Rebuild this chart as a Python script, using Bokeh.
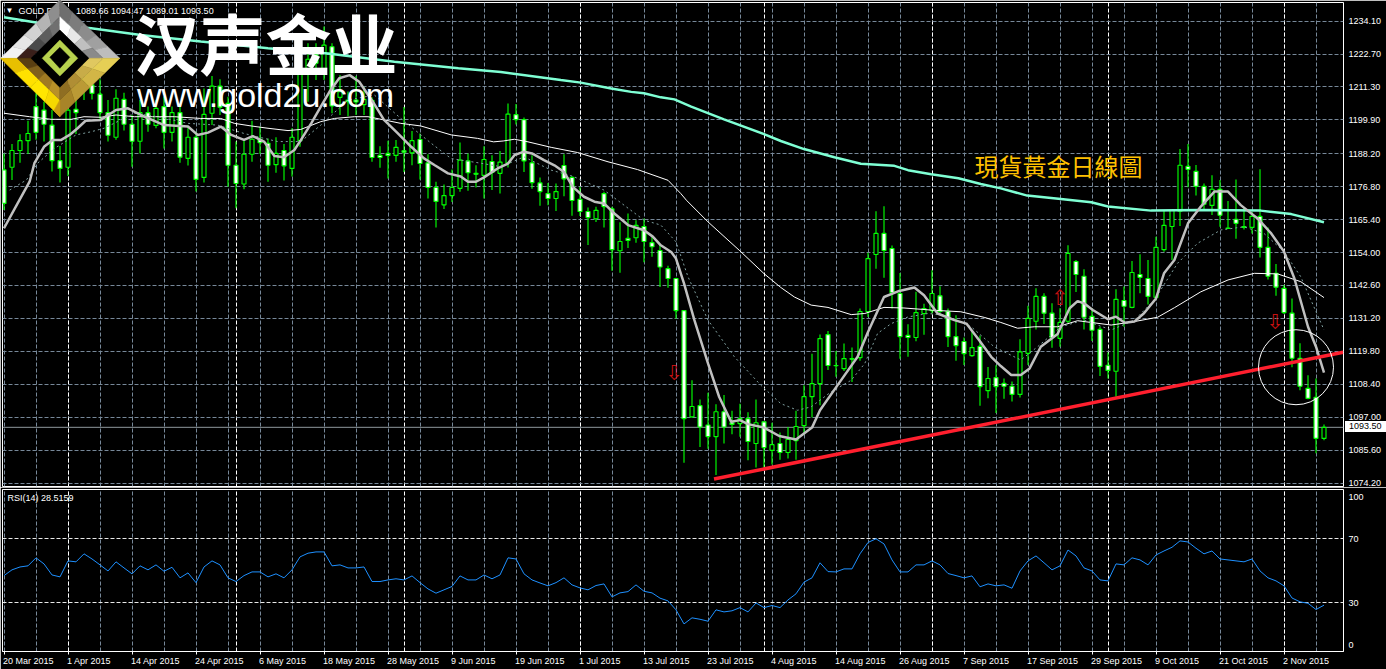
import numpy as np
from bokeh.plotting import figure
from bokeh.layouts import column
from bokeh.models import (ColumnDataSource, Div, FixedTicker, Grid, Label, LinearAxis,
                          NumeralTickFormatter, CustomJSTickFormatter, Range1d)
from bokeh.core.properties import value
from bokeh.embed import file_html
from bokeh.resources import INLINE

high = [1188.3,1191.6,1194.9,1199.6,1209.1,1206.2,1203.3,1190.9,1206.8,1213.7,1222.4,1218.3,1214,1206.8,1210.5,1209.3,1201.6,1206.8,1204.5,1206.8,1207.9,1204.5,1205.6,1197.6,1195.8,1210.8,1215.1,1214,1207.9,1192.4,1193,1199.6,1197.6,1193.5,1193.9,1191.6,1197,1218.9,1226.4,1226.4,1232.2,1226.4,1215.4,1209.7,1215.1,1211.4,
        1207.7,1190.8,1192.7,1192.9,1204.4,1196.1,1195.2,1188,1178.5,1177.5,1182.7,1192.1,1188.3,1184.2,1190.8,1187.7,1189.1,1205.6,1205.4,1200.7,1187.7,1180,1178.1,1177.9,1188,1180.4,1176.7,1169.6,1169.8,1175,1169.8,1164.5,1167.5,1165.2,1165.8,1159.7,
        1156.9,1149.4,1145.3,1133.9,1109.8,1103.1,1105.5,1101.5,1104.7,1099.2,1101.7,1098.7,1103.1,1095.4,1095.1,1091.7,1093.6,1099.2,1108.1,1119,1125.6,1126.8,1119.9,1122.5,1121.1,1134.6,1153.9,1168.3,1170,1156.4,1146.9,1129.2,1140.4,1136.3,1147.9,1142.3,1134.6,1132.3,1124.6,1127.1,1125.3,1114.4,1115,
        1110.4,1109.4,1124,1135.6,1141.6,1139.9,1136.4,1134.7,1156.5,1151.4,1148.2,1134.7,1128.3,1119.4,1141.3,1142.2,1151.1,1153.4,1151.4,1159.5,1168.7,1168.7,1189.8,1191.6,1184.3,1177.9,1180.7,1179.1,1171.8,1179.3,1169.6,1168.1,1182.8,1162.7,1150,1142.8,1138.1,1122.6,1111.5,1110.4,1094.47]
body_top = [1182.6,1189.3,1192.7,1195.2,1204.5,1203.3,1198.1,1185.8,1203.3,1203.6,1217.7,1212,1208.8,1202.4,1207.4,1207,1198.4,1202.4,1202.4,1203.9,1204.5,1202.4,1202.4,1193.9,1193.9,1201.8,1211.6,1211.6,1205.6,1184.2,1188,1193.2,1193.2,1191.8,1188.3,1189.3,1193.9,1215.8,1220.9,1222.4,1225.8,1225.2,1209.7,1206.8,1206.8,1207,
            1206.7,1187.6,1188.3,1190.4,1189.2,1192.7,1193.1,1185,1176.5,1173.7,1176.5,1186,1185.7,1181.4,1186.2,1185.5,1185.3,1201.9,1201.7,1200,1185,1178.1,1174.4,1175.1,1184.1,1180,1172.4,1168.2,1168.6,1174.4,1169.1,1157.8,1158.9,1163.4,1163,1157.4,
            1154.7,1148.4,1145,1133.9,1100.7,1101,1094.3,1098.9,1098.9,1095.1,1096.5,1096.5,1095.1,1095.4,1087.5,1087.9,1089.3,1093.8,1104.1,1108.6,1124.2,1125.6,1114.9,1117.3,1117.3,1133.6,1151.9,1160.6,1160.6,1155.4,1139.8,1125.3,1133.2,1134.6,1139.8,1139,1133.6,1124.9,1123.2,1121.1,1121.5,1110.4,1110.7,
            1108.7,1107.7,1119.6,1131.2,1138.8,1138.8,1133,1129.8,1153.7,1150.9,1145.8,1131.9,1127.4,1115,1137.8,1137.4,1147.1,1146.4,1145,1155.8,1163.4,1168.6,1184.2,1183.8,1182.1,1176.9,1175.9,1175.9,1162.5,1165.5,1163,1166.5,1166.5,1155.8,1146.8,1141.6,1133,1117.4,1107,1103.9,1093.5]
body_bot = [1171,1183.5,1189.3,1192.7,1195.6,1198.4,1185.8,1183.1,1183.5,1202.4,1212,1209.1,1202.4,1194.6,1193.9,1198.4,1192.5,1192.5,1198.4,1198,1195.6,1195.6,1187,1186.6,1179.3,1180,1202.2,1204.3,1184.2,1177.9,1177.7,1188,1192,1184.2,1184.4,1184,1183.1,1192.7,1215.8,1219.5,1216.6,1204.7,1207.7,1206.2,1206.1,1205.2,
            1186.9,1186.9,1187.6,1187.6,1188.7,1188.5,1184.8,1176.5,1171.7,1170.5,1173.7,1176.2,1181.6,1181.1,1180.7,1181.7,1181.4,1185,1200,1185.7,1178.2,1175.1,1172.7,1172.7,1179.5,1172,1168.2,1166.1,1165.7,1169.9,1155,1154.6,1158.2,1159.1,1157.8,1156,
            1149,1145,1133.9,1096.5,1097.1,1093.6,1090.3,1090.3,1093.6,1094.5,1094.8,1088.6,1087.9,1086.5,1085.5,1084.8,1084.8,1088.9,1094.1,1104.1,1108.6,1114.9,1114.8,1113.8,1117.1,1117.6,1133.6,1153.3,1154.7,1140.1,1124.9,1124.6,1124.6,1132.9,1133.9,1133.6,1124.9,1121.8,1119,1118.3,1107.6,1106.2,1107.6,
            1107.7,1104.9,1104.9,1119.1,1130.2,1133,1124.6,1124.3,1130.2,1146.4,1131.6,1127.1,1114.6,1113.2,1112.9,1135.4,1135,1145.4,1138.8,1138.5,1155,1163,1168.3,1182.8,1176.9,1170.7,1170.3,1166.9,1162.3,1164.1,1162.7,1162.7,1155.8,1145.8,1142,1133.2,1117.4,1107.7,1103.5,1089.7,1089.66]
low = [1168.7,1179.1,1185.1,1188.1,1193,1192.4,1182,1178.2,1180.5,1195,1206.8,1207,1199.9,1192.4,1193,1196.2,1183.7,1188.3,1195.8,1197,1190,1192.4,1185.1,1184.1,1175.1,1178.2,1198.1,1201.6,1176.8,1169.3,1175.9,1185.4,1188.1,1178.5,1181.6,1178.9,1180.3,1190.6,1206.2,1213.7,1213.7,1202.2,1201.6,1201.2,1201.6,1201.6,
       1185.4,1183.3,1179.6,1185.4,1181.9,1184.2,1179.3,1172.7,1162.7,1169.1,1171.5,1175,1175.4,1176.5,1172.7,1175.6,1174.4,1183.4,1198.3,1181.9,1176.1,1170.2,1170.4,1168.4,1173.5,1166.7,1166.6,1156.6,1164.6,1162.7,1147.7,1147,1155.6,1157.4,1150.6,1152.5,
       1142.1,1141.8,1131.1,1081.2,1096.9,1086.7,1086.1,1077,1087.9,1091.1,1090.2,1082.1,1079.6,1079.8,1080.6,1082.3,1082.7,1082.3,1090.9,1096.9,1101.1,1113.3,1111,1113,1109.2,1116.5,1131.7,1148.4,1145.3,1134.6,1117.2,1117.9,1123.3,1125.5,1132.9,1132.9,1121.3,1116.5,1115.1,1117.9,1101,1103.6,1098.5,
       1103.4,1102.4,1103.8,1115.1,1127.4,1129.3,1121,1121.4,1129.5,1140.3,1127.4,1123.4,1111.3,1110.4,1104.1,1128.3,1134.7,1139.9,1136,1137.6,1154.3,1151.4,1163.2,1176.6,1173.7,1168.4,1167,1162.9,1162.1,1158.8,1162,1160.6,1152.3,1144.7,1139,1132.7,1114.3,1106.3,1103.2,1084.5,1089.01]
rising_bars = [1,2,3,8,10,14,17,19,21,23,25,26,30,31,34,36,37,38,40,42,45,49,51,55,56,57,60,62,63,69,74,77,79,86,89,92,94,96,98,99,100,101,102,105,107,108,109,114,115,116,121,123,127,128,129,132,133,139,141,144,145,146,147,151,156,165]

fast_ma_bar = [0,1.7,3.2,3.8,5,6.1,7.1,8.2,9.2,10.2,12.1,14,15.5,17.1,20,23,24.2,25.5,27.1,28.4,30,31.1,32.5,33.8,35,36.3,37.1,38.4,39.6,40.7,41.9,43.2,44.4,46.1,47.5,49.2,50.9,52.5,53.8,55.5,57.1,58,59,60,61.7,63,63.8,65,66,67.5,68.8,70,71.1,72.5,73.8,75,76.3,78,80,81.1,82.1,83.4,84,85,86.3,88,89.4,90.9,92,93,95,96.9,99,101,102,104.2,106.7,108,110,111.9,113.8,115,116.7,118.8,120.3,121.9,123.4,124.6,125.9,127.1,128.2,129.6,131.7,133.2,134.2,135,136.1,138,139,140.1,141.3,142.5,144,145,146.3,148,149.6,151.3,153,154.6,156.7,158.4,160,161.3,163,164,165]
fast_ma_val = [1162.4,1171,1178.5,1184.9,1190.6,1192.9,1192.9,1194.7,1197,1199.6,1199.9,1203.3,1203.9,1201.6,1198.1,1197.6,1194.7,1195.5,1197.6,1194.7,1193,1194.3,1192.4,1187.4,1187,1189.5,1192.9,1198.7,1204.5,1209.7,1214.3,1215.4,1213.1,1206.2,1199.9,1195.3,1190.6,1186.6,1184.3,1181.4,1180.3,1178.5,1178.5,1180,1183.1,1184.8,1187.7,1188.9,1188.3,1186,1184.2,1181.9,1176.7,1173.3,1171.6,1171,1167.5,1163.5,1161.7,1159.5,1156.5,1154.2,1151.9,1143.3,1130.6,1115.6,1104,1095.4,1096,1094.6,1093.4,1090.5,1089.3,1093.4,1099.4,1108.1,1117.9,1126.5,1138.6,1140.7,1141.9,1139.2,1132.9,1130.6,1129.4,1123.6,1117.9,1114.7,1111.6,1111.6,1113.9,1121.4,1125.8,1134.7,1137.2,1136.4,1134.1,1130.9,1131.8,1129.7,1130.1,1133,1138.1,1146.8,1151.4,1164.1,1169.9,1175.1,1175.1,1170.4,1165.8,1160.6,1154.3,1145,1128.3,1121.4,1112.4]

signal_ma_bar = [0.7,2.8,4.2,6.3,9,10.9,12.5,16.3,19.2,23,26.7,30,34.2,37.1,39.6,43,46.3,49.6,53.4,55.9,59.4,62.1,65,68.4,71.1,75,77.5,80,82.1,84,85.5,88,91.3,94.6,97.1,99.2,100.9,103.4,105.9,107.6,109.2,110.9,113,115.5,117.5,120.9,123.8,127.1,129.2,132.1,135,138.4,141.3,143.8,146.7,149.2,152.1,155,157.5,160,162.1,165]
signal_ma_val = [1175.6,1179.1,1184.9,1190,1194.7,1195.8,1197,1202.2,1201,1198.7,1198.1,1195.2,1192.4,1192.4,1198.1,1206.8,1208.5,1200.4,1191.8,1186.5,1185,1183.7,1187.1,1182.5,1180.4,1175.6,1170.4,1165.2,1163.5,1157.7,1145.6,1130.6,1117.9,1108.1,1101.7,1099.4,1100.6,1105.8,1109.8,1115.6,1126,1129.4,1131.7,1132.9,1132.3,1128.3,1121.3,1116.8,1121.4,1128.3,1130.6,1127.2,1130.6,1137.6,1150.3,1157.2,1161.8,1162.9,1160.6,1154.3,1145.6,1127.2]

mid_ma_bar = [0,3.2,5.9,8.4,10,12.1,14,16.3,18.6,21.3,24.6,27.1,28.8,30.9,33,35.5,37.1,39.6,41.3,43.8,45.5,47.5,49.6,52.1,55.9,59.2,61.2,62.4,63.8,65.5,68.4,71.7,75.5,79.2,83,84.6,85.3,88,91.9,95,97.1,98.8,100.9,103,105.9,107.6,110,112.5,116.3,119.6,122.6,124.6,126.7,128.8,131.7,134.2,138.4,141.3,144.2,146.3,149.6,153,156.3,159.2,162.1,165]
mid_ma_val = [1202.2,1201,1200.1,1200.1,1201,1200.8,1201.6,1201,1201,1201,1200.4,1200.4,1198.7,1197.8,1197,1196.2,1196.6,1199.3,1200.4,1201,1201,1199.9,1198.7,1197.8,1194.7,1193.5,1192.3,1192.6,1193.2,1192.3,1190.4,1188.6,1185.4,1182.7,1179,1174.4,1172.1,1164.6,1154.8,1146.7,1141.9,1138.6,1135.8,1135,1132.5,1132.9,1135,1134.8,1134,1133.5,1131.5,1129.8,1127.8,1128.3,1128.3,1130.4,1128.9,1130.1,1131.6,1134.9,1140.4,1144.5,1146.8,1146.6,1143.9,1138.4]

slow_ma_bar = [0,4,10.9,17.1,24.6,33,40.5,48.8,56.8,62.1,69.6,72.1,75.9,78.4,80,82.1,83.8,85.9,90,95,97.1,100,103.8,107.1,111.3,113,115.9,119.3,122.1,124.6,127.9,132.1,135.9,138,143.4,149.6,157.1,160.9,165]
slow_ma_val = [1235.4,1233.6,1231.6,1229.3,1227,1224.7,1222.9,1220,1217.8,1216.5,1213.7,1212.8,1210.8,1209.6,1209.1,1207.7,1207,1204.5,1200.1,1195,1192.6,1189.8,1187,1184.7,1184,1182.5,1181.1,1179.7,1177.7,1176.2,1173.7,1172.5,1171.4,1169.9,1168.5,1168.7,1168.5,1167.3,1164.5]

rsi = [47,50.6,52.4,53.1,58.1,54.3,47.4,46.2,56.2,55.6,60.6,57.4,53.7,49.9,55.6,51.8,48.1,53.1,50.6,53.7,49.7,52.2,45.6,48.7,42.6,52.4,56.2,53.7,45.6,43.3,47,49.3,49.3,46.2,48.1,45.6,50.6,58.7,61,61.8,61.8,53.1,53.7,51.8,51.8,52.4,43.3,43.3,44.3,45,44.3,46.8,42.6,38.7,36,38.1,40.2,46.8,44.3,44.3,47.4,45,47.4,58.1,57.4,48.1,44.3,42.4,40.6,42.6,45.6,41.2,39.3,38.1,40.8,41.8,33.7,36.2,37,41.2,37.2,36.2,32.9,31.2,25.6,16.8,20.6,19.7,18.5,25.6,24.3,25,27,24.3,29.9,27,28.3,27,31.8,35.6,42.9,45.6,55,49.5,49.3,51.2,51.2,60.6,67.7,70,66.8,56.8,49.3,49.3,53.7,53.7,56.2,53.7,48.3,47,45.6,46.8,40,41.8,40.6,41.2,39.1,49.9,56.2,59.3,55,50.6,53.1,63,59.3,51.8,49.9,44.3,43.7,54.3,53.7,58.1,56.8,53.7,59.9,62.4,64.7,68.7,68,64.1,60.6,62.4,57.4,56.8,56.2,55.6,57.4,49.9,45.6,43.7,40.6,33,30.6,29.7,25.8,28.5159]

price_ticks = [1234.1,1222.7,1211.3,1199.9,1188.2,1176.8,1165.4,1154.0,1142.6,1131.2,1119.8,1108.4,1097.0,1085.6,1074.2]
rsi_labels = {96.4: "100", 70: "70", 30: "30", 3.5: "0"}
date_labels = ["20 Mar 2015","1 Apr 2015","14 Apr 2015","24 Apr 2015","6 May 2015","18 May 2015","28 May 2015","9 Jun 2015","19 Jun 2015","1 Jul 2015","13 Jul 2015","23 Jul 2015","4 Aug 2015","14 Aug 2015","26 Aug 2015","7 Sep 2015","17 Sep 2015","29 Sep 2015","9 Oct 2015","21 Oct 2015","2 Nov 2015"]
date_bars = list(range(0, 161, 8))
month_bars = [8,29,50,72,95,116,138,160]
grid_bars = list(range(0, 165, 4))
last_close = 1093.5

trend_bar = [88.75, 167.4]
trend_val = [1075.6, 1119.5]
circle_bar, circle_val = [161.5], [1114.3]
arrow_bar = [83.8, 132, 158.9]
arrow_val = [1112.4, 1138.3, 1130.1]
arrow_txt = ["\u21e9", "\u21e7", "\u21e9"]

W, H1, H2 = 1386, 487, 182
FIRST_PX = 3.5
X_RANGE = ((2 - FIRST_PX) / 8, (1343 - FIRST_PX) / 8)
Y_TOP = 1240.53; Y_BOT = 1073.02
AXIS_FONT = "Liberation Sans"
GREY = "#778899"
DASH = "4 2"

def base(height, frame_h, yrange, top, bottom):
    p = figure(width=W, height=height, output_backend="svg", toolbar_location=None,
               x_range=Range1d(*X_RANGE), y_range=Range1d(*yrange),
               x_axis_location=None, y_axis_location=None,
               background_fill_color="black", border_fill_color="black",
               outline_line_color="white", outline_line_width=1,
               min_border_left=2, min_border_right=43, min_border_top=top, min_border_bottom=bottom,
               frame_width=1341, frame_height=frame_h, tools="")
    p.grid.visible = False
    p.add_layout(Grid(dimension=0, ticker=FixedTicker(ticks=grid_bars), grid_line_color=GREY, grid_line_dash=DASH))
    p.add_layout(Grid(dimension=0, ticker=FixedTicker(ticks=month_bars), grid_line_color="white", grid_line_dash=DASH))
    return p

p = base(H1, 484, (Y_BOT, Y_TOP), 2, 1)
yax = LinearAxis(ticker=FixedTicker(ticks=price_ticks), formatter=NumeralTickFormatter(format="0.00"),
                 axis_line_color=None, major_tick_line_color=None, minor_tick_line_color=None,
                 major_tick_out=0, major_tick_in=0, major_label_standoff=5,
                 major_label_text_color="white", major_label_text_font=AXIS_FONT, major_label_text_font_size="9px")
p.add_layout(yax, "right")
p.add_layout(Grid(dimension=1, ticker=FixedTicker(ticks=price_ticks), grid_line_color=GREY, grid_line_dash=DASH))

p.line(X_RANGE, [last_close, last_close], line_color="#8f979c", line_width=1)

x = np.arange(len(high))
hi, top_, bot, lo = map(np.array, (high, body_top, body_bot, low))
up = np.zeros(len(high), dtype=bool); up[rising_bars] = True
p.segment(x, lo, x, hi, line_color="#00ff00", line_width=1.15)
p.vbar(x[~up], 0.5, bot[~up], top_[~up], fill_color="white", line_color="#00ff00", line_width=1.15)
p.vbar(x[up], 0.5, bot[up], top_[up], fill_color="black", line_color="#00ff00", line_width=1.15)

p.line(slow_ma_bar, slow_ma_val, line_color="#7fffd4", line_width=2.5)
p.line(mid_ma_bar, mid_ma_val, line_color="white", line_width=1)
p.line(signal_ma_bar, signal_ma_val, line_color="#7f9f9f", line_width=1, line_dash="2 3")
p.line(fast_ma_bar, fast_ma_val, line_color="#c0c0c0", line_width=2.5)
p.line(trend_bar, trend_val, line_color="#ff1f2e", line_width=3.5)
p.scatter(circle_bar, circle_val, size=75, marker="circle", fill_color=None, line_color="white", line_width=1)
p.text(arrow_bar, arrow_val, text=arrow_txt, text_color="#c81010", text_font=value("DejaVu Sans"),
       text_font_size="21px", text_align="center", text_baseline="middle")

def txt(text, px, py, color="white", font=AXIS_FONT, size="9px", style="normal", level="annotation", **kw):
    # Label screen units are taken from the frame's bottom-left corner
    return Label(x=px - 2, y=486 - py, x_units="screen", y_units="screen", text=text,
                 text_color=color, text_font=font, text_font_size=size, text_font_style=style,
                 text_align="left", text_baseline="middle", level=level, **kw)

p.add_layout(txt("GOLD,Daily", 18, 10))
p.add_layout(txt("1089.66 1094.47 1089.01 1093.50", 75.5, 10))
p.add_layout(txt("\u25bc", 5, 10, size="8px"))
p.add_layout(txt("\u73fe\u8ca8\u9ec3\u91d1\u65e5\u7dda\u5716", 974, 165, color="#ffc000", font="Noto Sans CJK TC", size="24px"))

def lx(v): return (np.array(v, dtype=float) / 3 - FIRST_PX) / 8
def ly(v): return 1241.4 - 0.3461 * np.array(v, dtype=float) / 3

def strip(a, b, c, d, cols):
    xs, ys, cs = [], [], []
    a, b, c, d = map(np.array, (a, b, c, d))
    n = len(cols)
    for k, col in enumerate(cols):
        t0, t1 = k / n, (k + 1) / n
        q_ = [a + (b - a) * t0, a + (b - a) * t1, d + (c - d) * t1, d + (c - d) * t0]
        xs.append(lx([r[0] for r in q_])); ys.append(ly([r[1] for r in q_])); cs.append(col)
    return xs, ys, cs

L, T, R, B = (0, 175), (178, 0), (358, 175), (178, 350)
i1L, i1T, i1R, i1B = (50, 175), (178, 50), (308, 175), (178, 300)
i2L, i2T, i2R, i2B = (92, 175), (178, 90), (265, 175), (178, 262)
parts = [
    strip(L, T, i1T, i1L, ["#f2f2f2", "#e6e6e6", "#d2d2d2", "#b4b4b4", "#8e8e8e"]),
    strip(T, R, i1R, i1T, ["#6e6e6e", "#7c7c7c", "#8c8c8c", "#a0a0a0", "#bdbdbd"]),
    strip(i1L, i1T, i2T, i2L, ["#3a1f1a", "#4a4a4a", "#5e5e5e", "#707070"]),
    strip(i1T, i1R, i2R, i2T, ["#ffffff", "#e8e8e8", "#c0c0c0", "#8a8a8a"]),
    strip(L, B, i1B, i1L, ["#e8c000", "#ffe100", "#ffe600", "#f6d800"]),
    strip(R, B, i1B, i1R, ["#e6cf55", "#d2b646", "#bb9a35", "#a88428"]),
    strip(i1L, i1B, i2B, i2L, ["#5a3f12", "#80601c", "#a07a22", "#b89028"]),
    strip(i1R, i1B, i2B, i2R, ["#e0c860", "#c8ac48", "#b08e34", "#8f6e22"]),
    ([lx([178, 178, 160])], [ly([300, 350, 332])], ["#c89a10"]),
    ([lx([178, 265, 178, 92])], [ly([90, 175, 262, 175])], ["#000000"]),
    ([lx([178, 232, 178, 125])], [ly([120, 175, 228, 175])], ["#b8d24e"]),
    ([lx([178, 208, 178, 148])], [ly([142, 172, 205, 172])], ["#000000"]),
]
xs, ys, cs = [], [], []
for a, b, c in parts:
    xs += a; ys += b; cs += c
p.patches(xs, ys, fill_color=cs, line_color=cs, line_width=0.5, level="overlay")
p.add_layout(txt("\u6c49\u58f0\u91d1\u4e1a", 133, 40.5, font="Noto Sans CJK SC", size="66px", style="bold", level="overlay"))
p.add_layout(txt("www.gold2u.com", 136.5, 94, font="Liberation Sans", size="34px", level="overlay"))

q = base(H2, 162, (-0.44, 100.81), 2, 18)
q.add_layout(Grid(dimension=1, ticker=FixedTicker(ticks=[70, 30]), grid_line_color="#e8e8e8", grid_line_dash=DASH))
q.line(x, rsi, line_color="#1e90ff", line_width=1)

tick_axis = LinearAxis(ticker=FixedTicker(ticks=date_bars), formatter=CustomJSTickFormatter(code="return ''"),
                       axis_line_color="white", major_tick_line_color="white", minor_tick_line_color=None,
                       major_tick_out=3, major_tick_in=0, major_label_standoff=0, major_label_text_font_size="1px")
q.add_layout(tick_axis, "below")

EM = {"M": .833, "a": .556, "r": .333, "p": .556, "y": .5, "J": .5, "u": .556, "n": .556, "l": .222, "A": .667,
      "g": .556, "S": .667, "e": .556, "O": .778, "c": .5, "t": .278, "N": .722, "o": .556, "v": .5, " ": .278}
label_centres = [round(b + (sum(EM.get(ch, .556) for ch in s) * 9 / 2 - 1) / 8, 3) for b, s in zip(date_bars, date_labels)]
date_axis = LinearAxis(ticker=FixedTicker(ticks=label_centres),
                       major_label_overrides=dict(zip(label_centres, date_labels)),
                       axis_line_color=None, major_tick_line_color=None, minor_tick_line_color=None,
                       major_tick_out=0, major_tick_in=0, major_label_standoff=1,
                       major_label_text_color="white", major_label_text_font=AXIS_FONT, major_label_text_font_size="9px")
q.add_layout(date_axis, "below")

rax = LinearAxis(ticker=FixedTicker(ticks=list(rsi_labels)), major_label_overrides=rsi_labels,
                 axis_line_color=None, major_tick_line_color=None, minor_tick_line_color=None,
                 major_tick_out=0, major_tick_in=0, major_label_standoff=5,
                 major_label_text_color="white", major_label_text_font=AXIS_FONT, major_label_text_font_size="9px")
q.add_layout(rax, "right")
q.add_layout(Label(x=5, y=154, x_units="screen", y_units="screen", text="RSI(14) 28.5159", text_color="white",
                   text_font=AXIS_FONT, text_font_size="9px", text_align="left", text_baseline="middle"))

price_box = Div(text="1093.50", width=41, height=11, margin=0,
                styles={"position": "absolute", "left": "1345px", "top": "421px", "background": "white",
                        "color": "black", "font": "9px 'Liberation Sans'", "line-height": "11px",
                        "padding-left": "4px", "box-sizing": "border-box", "z-index": "5"})

page = column(p, q, price_box, spacing=0, margin=0)
open("out.html", "w").write(file_html(page, INLINE))
